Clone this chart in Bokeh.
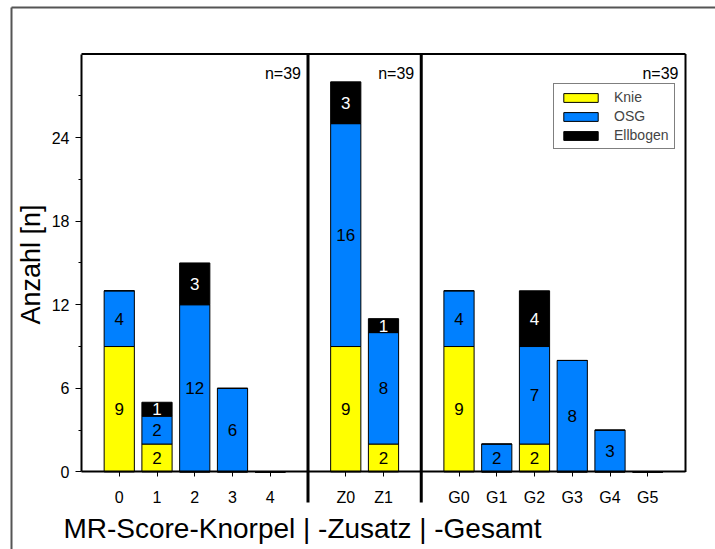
import numpy as np
from bokeh.plotting import figure
from bokeh.models import (ColumnDataSource, Range1d, Legend, LegendItem, Label,
                          FixedTicker)
from bokeh.core.properties import value
from bokeh.embed import file_html
from bokeh.resources import INLINE

# ---------------- data ----------------
group_names = ["Knorpel", "Zusatz", "Gesamt"]
categories = [["0", "1", "2", "3", "4"],
              ["Z0", "Z1"],
              ["G0", "G1", "G2", "G3", "G4", "G5"]]
knie = [[9, 2, 0, 0, 0], [9, 2], [9, 0, 2, 0, 0, 0]]
osg = [[4, 2, 12, 6, 0], [16, 8], [4, 2, 7, 8, 3, 0]]
ellbogen = [[0, 1, 3, 0, 0], [3, 1], [0, 0, 4, 0, 0, 0]]
series_names = ["Knie", "OSG", "Ellbogen"]
series_colors = ["#FFFF00", "#0080FF", "#000000"]
label_colors = ["black", "black", "white"]
y_major = [0, 6, 12, 18, 24]
y_minor = [3, 9, 15, 21, 27]
y_top = 30

FONT = "Liberation Sans"
W, H = 715, 549

# ---------------- positions (one free slot between groups) ----------------
x_pos, x_lab, dividers, group_ends = [], [], [], []
pos = 0
for gi, cats in enumerate(categories):
    for c in cats:
        x_pos.append(pos)
        x_lab.append(c)
        pos += 1
    group_ends.append(pos)
    if gi < len(categories) - 1:
        dividers.append(pos)
        pos += 1
x_start, x_end = -1, group_ends[-1]

flat = {n: sum(s, []) for n, s in zip(series_names, [knie, osg, ellbogen])}
src = ColumnDataSource(dict(x=x_pos, **flat))

# pixel layout of the inner plot box (frame covers whole canvas)
px_left, px_right, px_top, px_base = 81, 685, 53.5, 471.4
sx = (px_right - px_left) / (x_end - x_start)
sy = (px_base - px_top) / y_top
xr = Range1d(x_start - px_left / sx, x_end + (W - px_right) / sx)
yr = Range1d(-(H - px_base) / sy, y_top + px_top / sy)
div_bottom = -(502 - px_base) / sy

p = figure(width=W, height=H, x_range=xr, y_range=yr,
           output_backend="svg", toolbar_location=None,
           min_border_left=0, min_border_right=0,
           min_border_top=0, min_border_bottom=0)
p.outline_line_color = None
p.grid.visible = False
p.background_fill_color = "white"
p.border_fill_color = "white"

renderers = p.vbar_stack(series_names, x="x", width=0.8, source=src,
                         color=series_colors, line_color="black", line_width=1)

# value labels inside segments
bottom = np.zeros(len(x_pos))
for name, lc in zip(series_names, label_colors):
    vals = np.array(flat[name], dtype=float)
    mids = bottom + vals / 2
    mask = vals > 0
    p.text(x=list(np.array(x_pos)[mask]), y=list(mids[mask]),
           text=[str(int(v)) for v in vals[mask]],
           text_align="center", text_baseline="middle",
           text_font=value(FONT), text_font_size="17px", text_color=lc)
    bottom = bottom + vals

# n= labels per group
totals = []
i = 0
for cats in categories:
    n = len(cats)
    totals.append(int(sum(flat[s][j] for s in series_names for j in range(i, i + n))))
    i += n
p.text(x=group_ends, y=[y_top] * len(group_ends), text=[f"n={t}" for t in totals],
       x_offset=-7, y_offset=19, text_align="right", text_baseline="middle",
       text_font=value(FONT), text_font_size="16px", text_color="black")

# outer (page) frame: top and left edges
ox = xr.start + 11 / sx
oy = yr.end - 7 / sy
p.segment(x0=[ox, ox], y0=[oy, oy], x1=[xr.end, ox], y1=[oy, yr.start],
          line_color="#555555", line_width=2)

# plot frame lines and dividers
p.segment(x0=dividers, y0=[div_bottom] * len(dividers), x1=dividers, y1=[y_top] * len(dividers),
          line_color="black", line_width=3)
p.segment(x0=[x_start, x_end], y0=[y_top, 0], x1=[x_end, x_end], y1=[y_top, y_top],
          line_color="black", line_width=2)

# axes
xa = p.xaxis[0]
xa.fixed_location = 0
xa.bounds = (x_start, x_end)
xa.ticker = FixedTicker(ticks=x_pos)
xa.major_label_overrides = {xp: lab for xp, lab in zip(x_pos, x_lab)}
xa.minor_tick_line_color = None
xa.major_tick_out = 5
xa.major_tick_in = 0
xa.major_label_standoff = 12
xa.axis_line_width = 2
xa.major_label_text_font = FONT
xa.major_label_text_font_size = "16px"
xa.major_label_text_color = "black"

ya = p.yaxis[0]
ya.fixed_location = x_start
ya.bounds = (0, y_top)
ya.ticker = FixedTicker(ticks=y_major, minor_ticks=y_minor)
ya.major_tick_out = 6
ya.major_tick_in = 0
ya.minor_tick_out = 3
ya.minor_tick_in = 0
ya.axis_line_width = 2
ya.major_label_standoff = 6
ya.major_label_text_font = FONT
ya.major_label_text_font_size = "16px"
ya.major_label_text_color = "black"

p.add_layout(Label(x=30, y=H - 264, x_units="screen", y_units="screen",
                   text="Anzahl [n]", angle=np.pi / 2,
                   text_align="center", text_baseline="middle",
                   text_font=FONT, text_font_size="27px", text_color="black"))

p.add_layout(Label(x=302, y=H - 528, x_units="screen", y_units="screen",
                   text="MR-Score-Knorpel | -Zusatz | -Gesamt",
                   text_align="center", text_baseline="middle",
                   text_font=FONT, text_font_size="28px", text_color="black"))

legend = Legend(items=[LegendItem(label=n, renderers=[r]) for n, r in zip(series_names, renderers)],
                location=(553, H - 149), border_line_color="black", border_line_width=1,
                glyph_width=43, glyph_height=11, label_height=16, spacing=3,
                padding=5, margin=0, label_standoff=12,
                label_text_font=FONT, label_text_font_size="14px",
                background_fill_alpha=1)
p.add_layout(legend)

open("out.html", "w").write(file_html(p, INLINE))
